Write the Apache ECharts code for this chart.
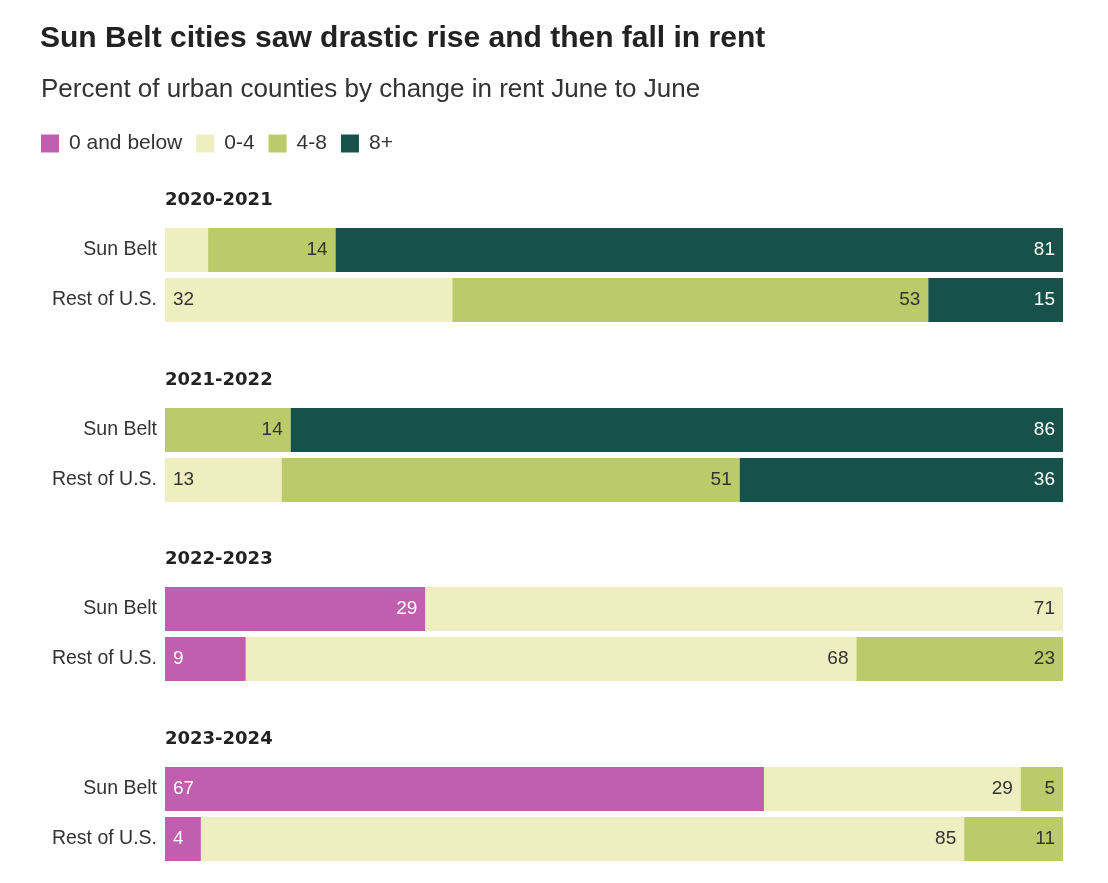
<!DOCTYPE html>
<html><head><meta charset="utf-8">
<script src="https://cdn.jsdelivr.net/npm/echarts@6/dist/echarts.min.js"></script>
<style>html,body{margin:0;padding:0;background:#fff}#c{width:1108px;height:883px}</style>
</head><body><div id="c"></div>
<script>
const periods = ['2020-2021', '2021-2022', '2022-2023', '2023-2024'];
const rows = ['Sun Belt', 'Rest of U.S.'];
const bins = ['0 and below', '0-4', '4-8', '8+'];
// values per period: [Sun Belt, Rest of U.S.]
const below0 = [[0, 0], [0, 0], [29, 9], [66.7, 4]];
const zeroTo4 = [[4.8, 32], [0, 13], [71, 68], [28.6, 85]];
const fourTo8 = [[14.2, 53], [14, 51], [0, 23], [4.7, 11]];
const eightPlus = [[81, 15], [86, 36], [0, 0], [0, 0]];

const binData = [below0, zeroTo4, fourTo8, eightPlus];
const colors = ['#c25eb0', '#efeec0', '#bbcb6a', '#17524a'];
const labelColors = ['#fff', '#333', '#333', '#fff'];
// label placement exceptions: "p-r-b" keys
const leftLabels = new Set(['0-1-1', '1-1-1', '2-1-0', '3-0-0', '3-1-0']);
const hiddenLabels = new Set(['0-0-1']);

const font = 'Liberation Sans, Arial, sans-serif';
const gridTops = [225, 405, 584, 764];

const grids = [], yAxes = [], xAxes = [], series = [], titles = [];
titles.push({text: 'Sun Belt cities saw drastic rise and then fall in rent', left: 35, top: 19,
  textStyle: {fontFamily: font, fontWeight: 'bold', fontSize: 30, color: '#222'}});
titles.push({text: 'Percent of urban counties by change in rent June to June', left: 36, top: 72,
  textStyle: {fontFamily: font, fontWeight: 'normal', fontSize: 26, color: '#333'}});

periods.forEach((p, pi) => {
  grids.push({left: 165, right: 45, top: gridTops[pi], height: 100});
  xAxes.push({type: 'value', gridIndex: pi, min: 0, max: 100, show: false});
  yAxes.push({type: 'category', gridIndex: pi, data: rows, inverse: true,
    axisLine: {show: false}, axisTick: {show: false},
    axisLabel: {fontFamily: font, fontSize: 19.5, color: '#333', margin: 8}});
  titles.push({text: p, left: 160, top: gridTops[pi] - 39,
    textStyle: {fontFamily: 'DejaVu Sans, sans-serif', fontWeight: 'bold', fontSize: 18, color: '#222'}});
  bins.forEach((b, bi) => {
    series.push({
      type: 'bar', name: b, xAxisIndex: pi, yAxisIndex: pi, stack: 's' + pi,
      barWidth: 44, itemStyle: {color: colors[bi]},
      data: binData[bi][pi].map((v, ri) => {
        const key = pi + '-' + ri + '-' + bi;
        return {value: v, label: {
          show: v > 0 && !hiddenLabels.has(key),
          position: leftLabels.has(key) ? 'insideLeft' : 'insideRight',
          distance: 8,
          formatter: (d) => String(Math.round(d.value)),
          color: labelColors[bi], fontFamily: font, fontSize: 19
        }};
      })
    });
  });
});

const chart = echarts.init(document.getElementById('c'));
chart.setOption({
  animation: false,
  title: titles,
  legend: {left: 36, top: 128, icon: 'rect', itemWidth: 18, itemHeight: 18, itemGap: 14,
    data: bins, textStyle: {fontFamily: font, fontSize: 21, color: '#333', padding: [0, 0, 0, 5]}},
  grid: grids, xAxis: xAxes, yAxis: yAxes, series: series
});
</script></body></html>
